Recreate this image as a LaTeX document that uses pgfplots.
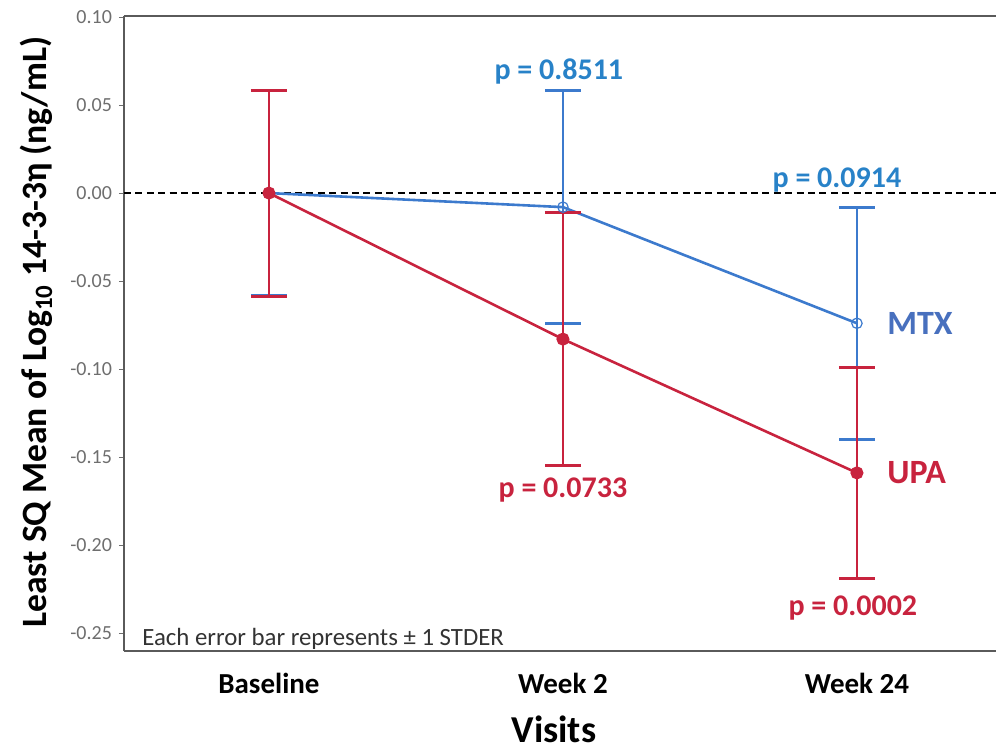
\documentclass[border=0pt]{standalone}
\usepackage{pgfplots}
\pgfplotsset{compat=1.18}
\usepackage{fontspec}
\setmainfont{Carlito}
\definecolor{bluec}{RGB}{60,122,205}
\definecolor{redc}{RGB}{200,35,62}
\definecolor{pblue}{RGB}{40,130,200}
\definecolor{mtxblue}{RGB}{72,112,190}
\definecolor{axgray}{RGB}{90,90,90}
\definecolor{tickgray}{RGB}{110,110,110}
\begin{document}
\begin{tikzpicture}
\begin{axis}[
  at={(0,0)}, anchor=south west,
  scale only axis, width=440pt, height=317.5pt,
  xmin=-0.493, xmax=2.5002,
  ymin=-0.2602, ymax=0.1006,
  axis lines=left,
  axis line style={axgray, line width=0.75pt, -},
  xtick={0,1,2},
  xticklabels={Baseline,Week 2,Week 24},
  xtick style={draw=none},
  xticklabel style={font=\fontsize{14.5}{16}\selectfont\bfseries, anchor=base, yshift=-18.5pt},
  ytick={-0.25,-0.2,-0.15,-0.1,-0.05,0,0.05,0.1},
  yticklabel style={font=\fontsize{10}{12}\selectfont, text=tickgray, /pgf/number format/.cd, fixed, fixed zerofill, precision=2, assume math mode=true},
  ytick style={tickgray, line width=0.5pt},
  tick align=outside, major tick length=2.5pt,
  xlabel={Visits},
  xlabel style={at={(rel axis cs:0.4885,0)}, anchor=base, yshift=-45.5pt, font=\fontsize{19}{22}\selectfont\bfseries},
  ylabel={Least SQ Mean of Log\textsubscript{10} 14-3-3η (ng/mL)},
  ylabel style={at={(rel axis cs:0,0.502)}, anchor=base, yshift=38.5pt, font=\fontsize{17.8}{21}\selectfont\bfseries},
  clip=false,
]
\draw[axgray, line width=0.75pt] (rel axis cs:0,1) -- (rel axis cs:1,1);
\addplot[black, line width=1.2pt, dash pattern=on 3.5pt off 2.2pt, forget plot] coordinates {(-0.493,0) (2.5002,0)};
% MTX
\addplot[bluec, line width=1.3pt, mark=o, mark size=2.6pt, mark options={line width=0.6pt},
  error bars/.cd, y dir=both, y explicit,
  error bar style={line width=1.2pt, bluec},
  error mark options={rotate=90, mark size=9pt, line width=1.5pt, bluec}]
  coordinates {(0,0) +- (0,0.058) (1,-0.008) +- (0,0.066) (2,-0.074) +- (0,0.066)};
% UPA
\addplot[redc, line width=1.3pt, mark=*, mark size=2.6pt,
  error bars/.cd, y dir=both, y explicit,
  error bar style={line width=1.2pt, redc},
  error mark options={rotate=90, mark size=9pt, line width=1.5pt, redc}]
  coordinates {(0,0) +- (0,0.0585) (1,-0.083) +- (0,0.072) (2,-0.159) +- (0,0.060)};
\node[font=\fontsize{15}{18}\selectfont\bfseries, text=pblue] at (axis cs:0.986,0.0688) {p = 0.8511};
\node[font=\fontsize{15}{18}\selectfont\bfseries, text=pblue] at (axis cs:1.932,0.0074) {p = 0.0914};
\node[font=\fontsize{15}{18}\selectfont\bfseries, text=redc] at (axis cs:1.0,-0.1688) {p = 0.0733};
\node[font=\fontsize{15}{18}\selectfont\bfseries, text=redc] at (axis cs:1.986,-0.2358) {p = 0.0002};
\node[font=\fontsize{17}{20}\selectfont\bfseries, text=mtxblue, anchor=west, inner sep=0pt] at (axis cs:2.102,-0.0739) {MTX};
\node[font=\fontsize{17}{20}\selectfont\bfseries, text=redc, anchor=west, inner sep=0pt] at (axis cs:2.102,-0.159) {UPA};
\node[font=\fontsize{12.4}{14}\selectfont, text=black!80, anchor=base west, inner sep=0pt] at (axis cs:-0.432,-0.2569) {Each error bar represents ± 1 STDER};
\end{axis}
\pgfresetboundingbox
\path (-62pt,-49.5pt) rectangle (436pt,325.5pt);
\end{tikzpicture}
\end{document}
